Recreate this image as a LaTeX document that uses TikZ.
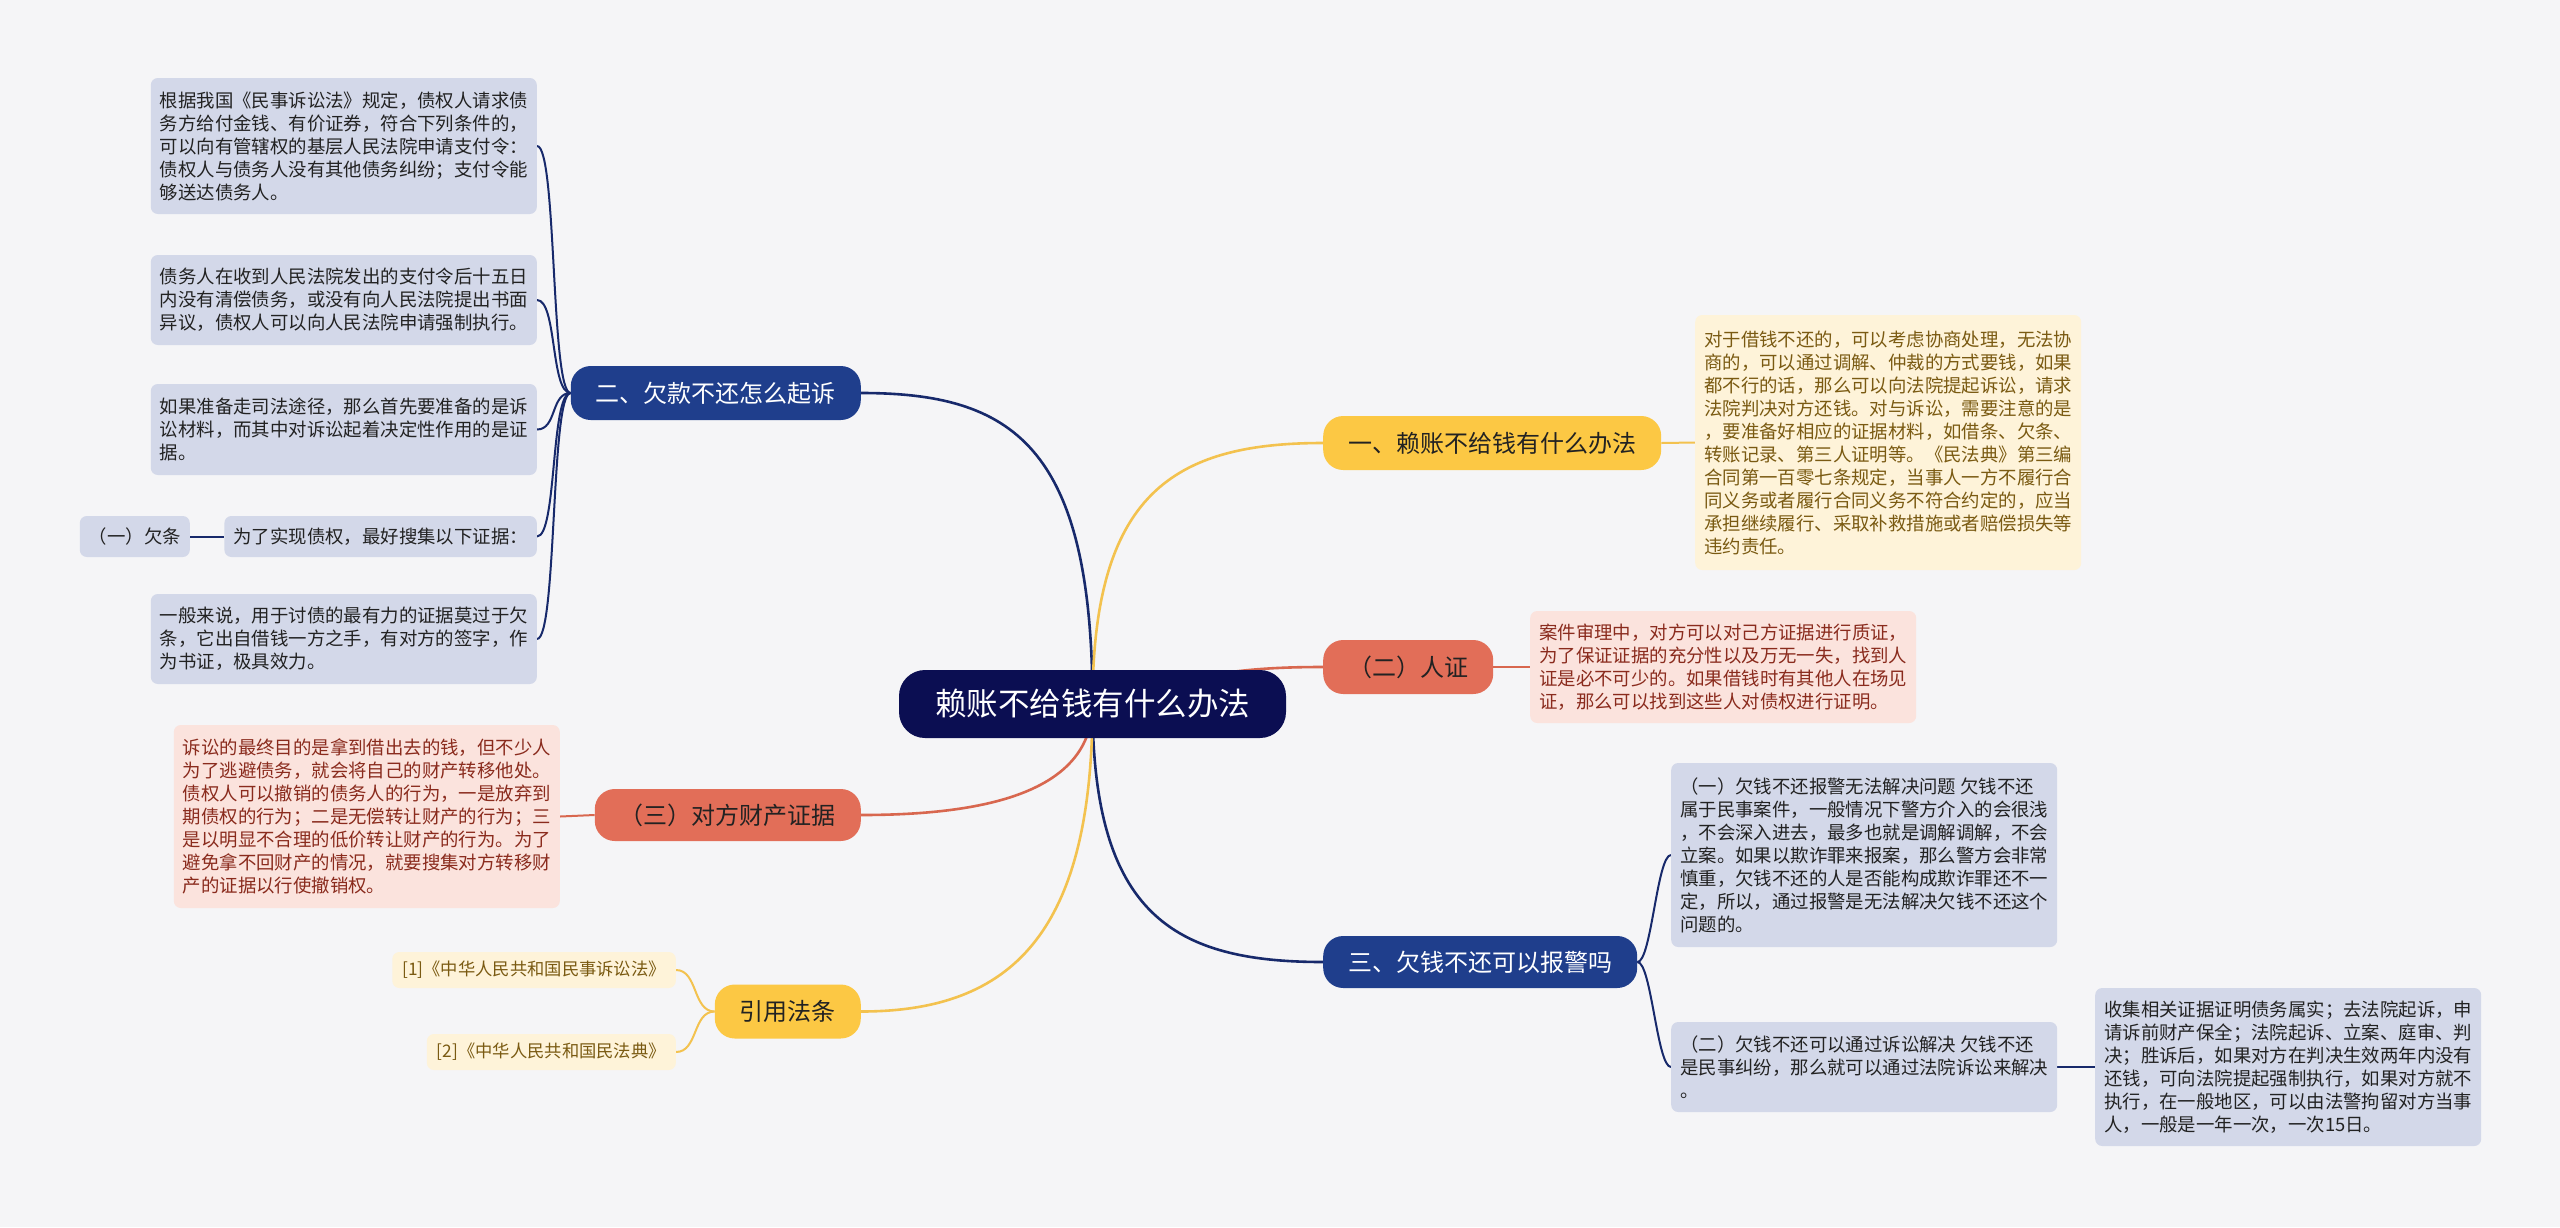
\documentclass[tikz,border=0pt]{standalone}
\usepackage{fontspec}
\setmainfont{Noto Sans CJK SC}
\usetikzlibrary{backgrounds}

\definecolor{bgcol}{HTML}{F5F5F7}
\definecolor{rootcol}{HTML}{0B0E52}
\definecolor{navycol}{HTML}{1F3E8C}
\definecolor{navyline}{HTML}{17296B}
\definecolor{yellowcol}{HTML}{FCC844}
\definecolor{yellowline}{HTML}{F3C24F}
\definecolor{redcol}{HTML}{E26E58}
\definecolor{redline}{HTML}{D8674F}
\definecolor{blueleafcol}{HTML}{D3D8E9}
\definecolor{creamleafcol}{HTML}{FEF3D9}
\definecolor{pinkleafcol}{HTML}{FBE3DD}
\definecolor{browntext}{HTML}{7A5A12}
\definecolor{redtext}{HTML}{8A2B1D}
\definecolor{darktext}{HTML}{222222}

\tikzset{
  rootnode/.style={fill=rootcol, text=white, rounded corners=26pt, minimum height=68pt,
    inner xsep=36pt, font=\fontsize{31.5}{36}\selectfont},
  branch/.style={rounded corners=20pt, minimum height=54pt, inner xsep=25pt,
    font=\fontsize{24}{28}\selectfont},
  navybranch/.style={branch, fill=navycol, text=white},
  yellowbranch/.style={branch, fill=yellowcol, text=darktext},
  redbranch/.style={branch, fill=redcol, text=darktext},
  leaf/.style={rounded corners=7pt, inner xsep=9pt, align=left,
    font=\fontsize{18.4}{23}\selectfont},
  blueleaf/.style={leaf, fill=blueleafcol, text=darktext},
  creamleaf/.style={leaf, fill=creamleafcol, text=browntext},
  pinkleaf/.style={leaf, fill=pinkleafcol, text=redtext},
  reflink/.style={leaf, fill=creamleafcol, text=browntext, inner xsep=10pt,
    font=\fontsize{17.3}{22}\selectfont},
  mainlink/.style={line width=2.6pt},
  leaflink/.style={line width=2pt},
}

\begin{document}
\begin{tikzpicture}[x=1pt, y=-1pt]
  % canvas
  \useasboundingbox (0,0) rectangle (2560,1227);

  % centre topic
  \node[rootnode] (root) at (1092.5,704) {赖账不给钱有什么办法};

  % main branches, right side
  \node[yellowbranch, anchor=west] (b1) at (1323,443) {一、赖账不给钱有什么办法};
  \node[redbranch, anchor=west] (b2) at (1323,667) {（二）人证};
  \node[navybranch, anchor=west, minimum height=52pt] (b3) at (1323,962) {三、欠钱不还可以报警吗};

  % main branches, left side
  \node[navybranch, anchor=east] (a1) at (861,393) {二、欠款不还怎么起诉};
  \node[redbranch, anchor=east, minimum height=52pt] (a2) at (861,815) {（三）对方财产证据};
  \node[yellowbranch, anchor=east] (a3) at (861,1011.5) {引用法条};

  % leaves of a1
  \node[blueleaf, anchor=east, minimum height=136pt] (l1) at (537,146) {根据我国《民事诉讼法》规定，债权人请求债\\务方给付金钱、有价证券，符合下列条件的，\\可以向有管辖权的基层人民法院申请支付令：\\债权人与债务人没有其他债务纠纷；支付令能\\够送达债务人。};
  \node[blueleaf, anchor=east, minimum height=90pt] (l2) at (537,300) {债务人在收到人民法院发出的支付令后十五日\\内没有清偿债务，或没有向人民法院提出书面\\异议，债权人可以向人民法院申请强制执行。};
  \node[blueleaf, anchor=east, minimum height=91pt] (l3) at (537,429.5) {如果准备走司法途径，那么首先要准备的是诉\\讼材料，而其中对诉讼起着决定性作用的是证\\据。};
  \node[blueleaf, anchor=east, minimum height=41pt] (l4) at (537,536.5) {为了实现债权，最好搜集以下证据：};
  \node[blueleaf, anchor=east, minimum height=41pt] (q1) at (190,536.5) {（一）欠条};
  \node[blueleaf, anchor=east, minimum height=90pt] (l5) at (537,639) {一般来说，用于讨债的最有力的证据莫过于欠\\条，它出自借钱一方之手，有对方的签字，作\\为书证，极具效力。};

  % leaf of a2
  \node[pinkleaf, anchor=east, minimum height=183pt] (r3) at (560,816.5) {诉讼的最终目的是拿到借出去的钱，但不少人\\为了逃避债务，就会将自己的财产转移他处。\\债权人可以撤销的债务人的行为，一是放弃到\\期债权的行为；二是无偿转让财产的行为；三\\是以明显不合理的低价转让财产的行为。为了\\避免拿不回财产的情况，就要搜集对方转移财\\产的证据以行使撤销权。};

  % leaves of a3
  \node[reflink, anchor=east, minimum height=36pt] (ref1) at (676,970) {[1]《中华人民共和国民事诉讼法》};
  \node[reflink, anchor=east, minimum height=36pt] (ref2) at (676,1052) {[2]《中华人民共和国民法典》};

  % leaves of right side
  \node[creamleaf, anchor=west, minimum height=255pt] (y1) at (1695,442.5) {对于借钱不还的，可以考虑协商处理，无法协\\商的，可以通过调解、仲裁的方式要钱，如果\\都不行的话，那么可以向法院提起诉讼，请求\\法院判决对方还钱。对与诉讼，需要注意的是\\，要准备好相应的证据材料，如借条、欠条、\\转账记录、第三人证明等。《民法典》第三编\\合同第一百零七条规定，当事人一方不履行合\\同义务或者履行合同义务不符合约定的，应当\\承担继续履行、采取补救措施或者赔偿损失等\\违约责任。};
  \node[pinkleaf, anchor=west, minimum height=112pt] (p1) at (1530,667) {案件审理中，对方可以对己方证据进行质证，\\为了保证证据的充分性以及万无一失，找到人\\证是必不可少的。如果借钱时有其他人在场见\\证，那么可以找到这些人对债权进行证明。};
  \node[blueleaf, anchor=west, minimum height=184pt] (n1) at (1671,855) {（一）欠钱不还报警无法解决问题 欠钱不还\\属于民事案件，一般情况下警方介入的会很浅\\，不会深入进去，最多也就是调解调解，不会\\立案。如果以欺诈罪来报案，那么警方会非常\\慎重，欠钱不还的人是否能构成欺诈罪还不一\\定，所以，通过报警是无法解决欠钱不还这个\\问题的。};
  \node[blueleaf, anchor=west, minimum height=90pt] (n2) at (1671,1067) {（二）欠钱不还可以通过诉讼解决 欠钱不还\\是民事纠纷，那么就可以通过法院诉讼来解决\\。};
  \node[blueleaf, anchor=west, minimum height=158pt] (s1) at (2095,1067) {收集相关证据证明债务属实；去法院起诉，申\\请诉前财产保全；法院起诉、立案、庭审、判\\决；胜诉后，如果对方在判决生效两年内没有\\还钱，可向法院提起强制执行，如果对方就不\\执行，在一般地区，可以由法警拘留对方当事\\人，一般是一年一次，一次15日。};

  \begin{pgfonlayer}{background}
    \fill[bgcol] (0,0) rectangle (2560,1227);
    % centre to branches
    \draw[mainlink, navyline] (root.center) .. controls +(0,-260) and +(150,0) .. (a1.east);
    \draw[mainlink, yellowline] (root.center) .. controls +(0,-210) and +(-150,0) .. (b1.west);
    \draw[mainlink, redline] (root.center) .. controls +(100,-30) and +(-80,0) .. (b2.west);
    \draw[mainlink, navyline] (root.center) .. controls +(0,210) and +(-150,0) .. (b3.west);
    \draw[mainlink, redline] (root.center) .. controls +(0,90) and +(120,0) .. (a2.east);
    \draw[mainlink, yellowline] (root.center) .. controls +(0,230) and +(150,0) .. (a3.east);
    % branches to leaves
    \draw[leaflink, yellowline] (b1.east) -- (y1.west);
    \draw[leaflink, redline] (b2.east) -- (p1.west);
    \foreach \n in {n1,n2}
      \draw[leaflink, navyline] (b3.east) .. controls +(14,0) and +(-14,0) .. (\n.west);
    \draw[leaflink, navyline] (n2.east) -- (s1.west);
    \foreach \n in {l1,l2,l3,l4,l5}
      \draw[leaflink, navyline] (a1.west) .. controls +(-20,0) and +(20,0) .. (\n.east);
    \draw[leaflink, navyline] (q1.east) -- (l4.west);
    \draw[leaflink, redline] (a2.west) -- (r3.east);
    \foreach \n in {ref1,ref2}
      \draw[leaflink, yellowline] (a3.west) .. controls +(-22,0) and +(22,0) .. (\n.east);
  \end{pgfonlayer}
\end{tikzpicture}
\end{document}
